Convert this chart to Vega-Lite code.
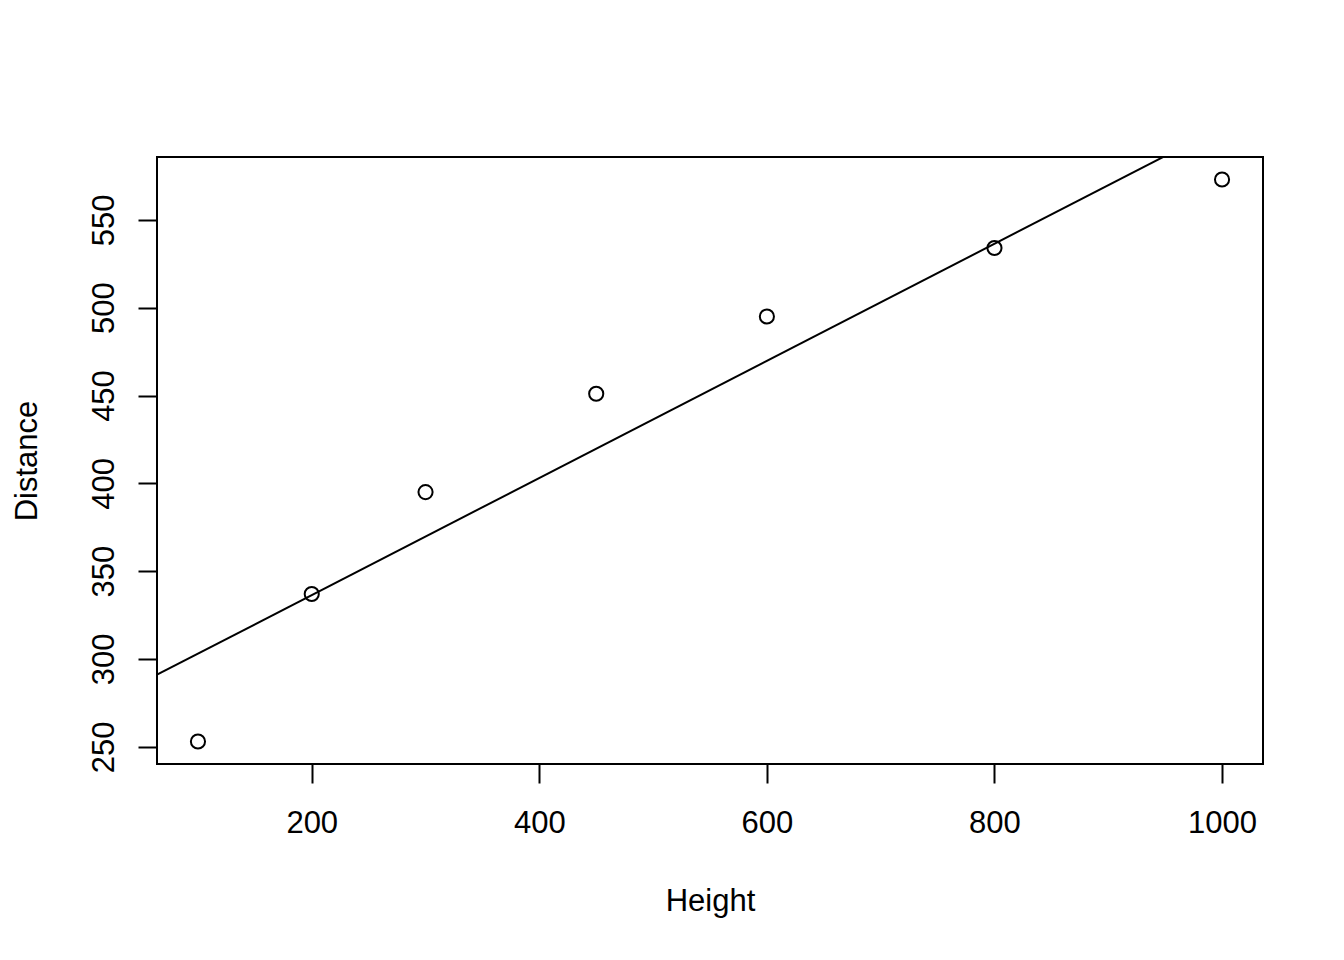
{
  "$schema": "https://vega.github.io/schema/vega-lite/v6.json",
  "width": 1106,
  "height": 607,
  "autosize": "none",
  "padding": {"left": 157, "top": 157, "right": 81, "bottom": 196},
  "background": "white",
  "config": {
    "view": {"stroke": "black", "strokeWidth": 2},
    "font": "Liberation Sans"
  },
  "data": {
    "values": [
      {"height": 100, "distance": 253},
      {"height": 200, "distance": 337},
      {"height": 300, "distance": 395},
      {"height": 450, "distance": 451},
      {"height": 600, "distance": 495},
      {"height": 800, "distance": 534},
      {"height": 1000, "distance": 573}
    ]
  },
  "encoding": {
    "x": {
      "field": "height",
      "type": "quantitative",
      "scale": {"domain": [64, 1036], "nice": false, "zero": false},
      "axis": {
        "title": "Height",
        "values": [200, 400, 600, 800, 1000],
        "format": "d",
        "grid": false,
        "domain": false,
        "tickColor": "black",
        "tickWidth": 2,
        "tickSize": 19,
        "labelFont": "Liberation Sans",
        "labelFontSize": 31,
        "labelColor": "black",
        "labelPadding": 25,
        "labelFlush": false,
        "labelOverlap": false,
        "titleFont": "Liberation Sans",
        "titleFontSize": 31,
        "titleFontWeight": "normal",
        "titleColor": "black",
        "titlePadding": 48
      }
    },
    "y": {
      "field": "distance",
      "type": "quantitative",
      "scale": {"domain": [240.2, 585.8], "nice": false, "zero": false},
      "axis": {
        "title": "Distance",
        "values": [250, 300, 350, 400, 450, 500, 550],
        "format": "d",
        "grid": false,
        "domain": false,
        "tickColor": "black",
        "tickWidth": 2,
        "tickSize": 19,
        "labelFont": "Liberation Sans",
        "labelFontSize": 31,
        "labelColor": "black",
        "labelAngle": -90,
        "labelAlign": "center",
        "labelBaseline": "alphabetic",
        "labelPadding": 25,
        "labelFlush": false,
        "labelOverlap": false,
        "titleFont": "Liberation Sans",
        "titleFontSize": 31,
        "titleFontWeight": "normal",
        "titleColor": "black",
        "titlePadding": 45
      }
    }
  },
  "layer": [
    {
      "mark": {"type": "point", "shape": "circle", "size": 200, "filled": false, "stroke": "black", "strokeWidth": 2, "opacity": 1}
    },
    {
      "transform": [{"regression": "distance", "on": "height", "extent": [64, 1036]}],
      "mark": {"type": "line", "color": "black", "strokeWidth": 2, "clip": true}
    }
  ]
}
